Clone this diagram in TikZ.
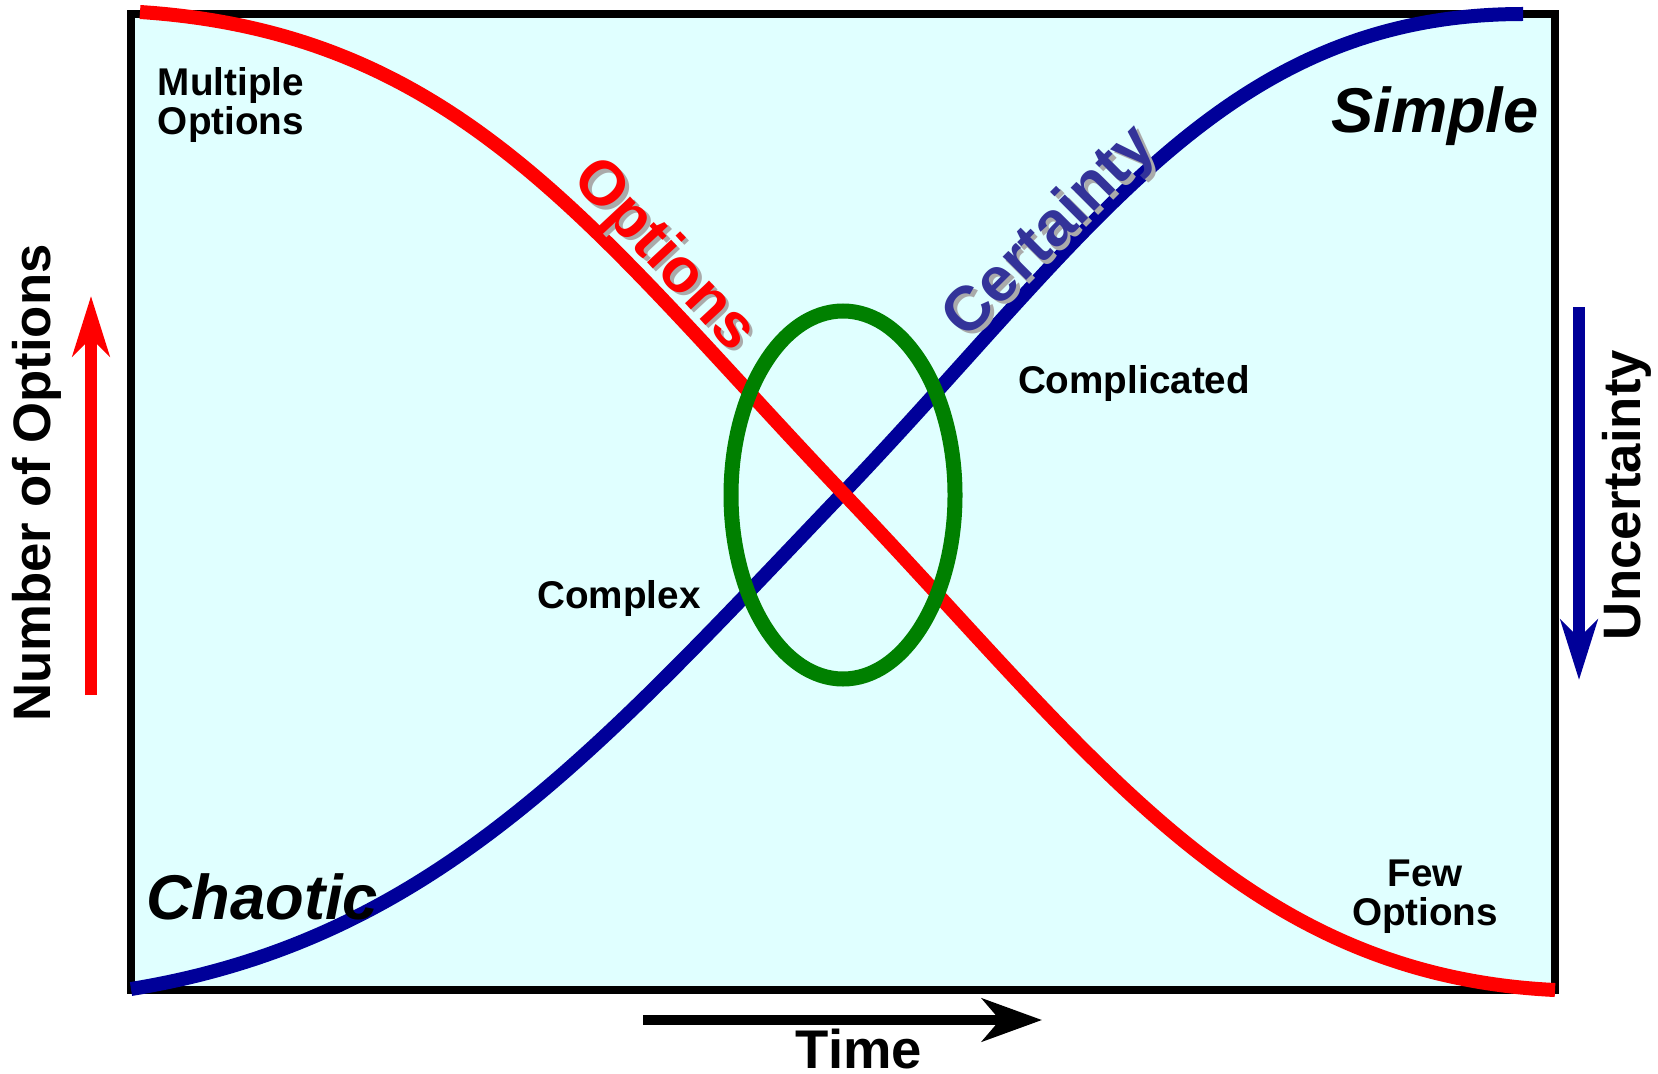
\documentclass[tikz,border=0pt]{standalone}
\usepackage{fontspec}
\setmainfont{Liberation Sans}
\usetikzlibrary{arrows.meta, calc}
\definecolor{panelcyan}{RGB}{224, 255, 255}
\definecolor{optred}{RGB}{255, 0, 0}
\definecolor{certnavy}{RGB}{0, 0, 153}
\definecolor{certlabel}{RGB}{51, 51, 153}
\definecolor{zonegreen}{RGB}{0, 128, 0}
\definecolor{shadowgray}{RGB}{170, 170, 170}
\tikzset{
    panel/.style={draw=black, line width=0.08cm, fill=panelcyan},
    optcurve/.style={draw=optred, line width=0.14cm},
    certcurve/.style={draw=certnavy, line width=0.14cm},
    zone/.style={draw=zonegreen, line width=0.15cm},
    cornerlabel/.style={font=\fontsize{11}{11.2}\selectfont\bfseries, align=center, inner sep=0pt},
    domainlabel/.style={font=\fontsize{18}{20}\selectfont\bfseries\itshape, inner sep=0pt},
    curvelabel/.style={font=\fontsize{17.8}{19}\selectfont\bfseries, inner sep=0pt},
    curveshadow/.style={curvelabel, text=shadowgray},
    axislabel/.style={font=\fontsize{15}{17}\selectfont\bfseries, inner sep=0pt},
    axisarrow/.style={line width=0.12cm, -{Stealth[length=0.6cm, width=0.37cm, inset=0.18cm]}},
}

\begin{document}
\begin{tikzpicture}
    \useasboundingbox (0,0) rectangle (16.58,10.73);

    % Panel
    \draw[panel] (1.31,0.83) rectangle (15.55,10.59);

    % Curves
    \coordinate (certstart) at (1.31,0.84);
    \coordinate (certend) at (15.23,10.59);
    \coordinate (optstart) at (1.40,10.61);
    \coordinate (optend) at (15.55,0.83);
    \coordinate (cross) at (8.43,5.80);
    \draw[certcurve] (certstart) .. controls (4.31,1.33) and (5.93,3.18) .. (cross)
        .. controls (10.93,8.42) and (12.23,10.59) .. (certend);
    \draw[optcurve] (optstart) .. controls (4.60,10.40) and (5.93,8.43) .. (cross)
        .. controls (10.93,3.18) and (12.42,0.98) .. (optend);

    % Complex zone
    \draw[zone] (8.43,5.78) ellipse [x radius=1.12, y radius=1.84];

    % Curve labels
    \node[curveshadow, rotate=-47] (optshadow) at (6.665,8.135) {Options};
    \node[curvelabel, rotate=-47, text=optred] (optlabel) at (6.63,8.17) {Options};
    \node[curveshadow, rotate=45] (certshadow) at (10.545,8.365) {Certainty};
    \node[curvelabel, rotate=45, text=certlabel] (certlabel) at (10.51,8.40) {Certainty};

    % Domains
    \node[domainlabel] (simple) at (14.35,9.57) {Simple};
    \node[domainlabel] (chaotic) at (2.62,1.76) {Chaotic};
    \node[cornerlabel] (complex) at (6.19,4.75) {Complex};
    \node[cornerlabel] (complicated) at (11.34,6.89) {Complicated};
    \node[cornerlabel] (multiple) at (2.31,9.68) {Multiple\\Options};
    \node[cornerlabel] (few) at (14.25,1.76) {Few\\Options};

    % Axes
    \node[axislabel, rotate=90] (numopts) at (0.37,5.90) {Number of Options};
    \node[axislabel, rotate=90] (uncert) at (16.27,5.78) {Uncertainty};
    \node[axislabel, font=\fontsize{15.5}{17}\selectfont\bfseries] (time) at (8.59,0.24) {Time};
    \coordinate (upfrom) at (0.91,3.78);
    \coordinate (upto) at (0.91,7.77);
    \coordinate (downfrom) at (15.79,7.66);
    \coordinate (downto) at (15.79,3.93);
    \coordinate (timefrom) at (6.43,0.53);
    \coordinate (timeto) at (10.42,0.53);
    \draw[axisarrow, optred] (upfrom) -- (upto);
    \draw[axisarrow, certnavy] (downfrom) -- (downto);
    \draw[axisarrow, black, line width=0.10cm, -{Stealth[length=0.6cm, width=0.43cm, inset=0.18cm]}] (timefrom) -- (timeto);
\end{tikzpicture}
\end{document}
